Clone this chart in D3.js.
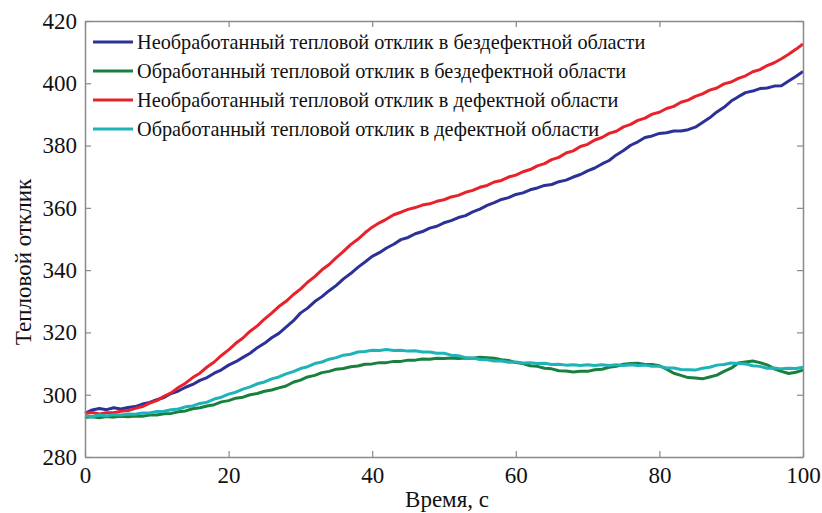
<!DOCTYPE html>
<html>
<head>
<meta charset="utf-8">
<script src="https://cdn.jsdelivr.net/npm/d3@7"></script>
<style>
  html, body { margin: 0; padding: 0; background: #fff; }
  svg { display: block; }
</style>
</head>
<body>
<svg id="chart" width="822" height="513" font-family="Liberation Serif"></svg>
<script>
// ---- data (time in seconds, 1 s step) ----
const time = d3.range(0, 101);

const seriesNames = [
  "Необработанный тепловой отклик в бездефектной области",
  "Обработанный тепловой отклик в бездефектной области",
  "Необработанный тепловой отклик в дефектной области",
  "Обработанный тепловой отклик в дефектной области"
];

const seriesColors = ["#2b3196", "#18803c", "#e8222b", "#1db3b8"];

const blueValues = [
  294.0, 295.1, 295.6, 295.2, 295.8, 295.4, 295.9, 296.2, 297.0, 297.5,
  298.4, 299.1, 300.4, 301.2, 302.4, 303.3, 304.6, 305.5, 306.9, 308.0,
  309.5, 310.6, 312.0, 313.3, 315.1, 316.5, 318.3, 319.7, 321.7, 323.7,
  326.2, 327.8, 329.9, 331.5, 333.4, 335.1, 337.2, 338.9, 340.9, 342.6,
  344.4, 345.6, 347.1, 348.3, 349.8, 350.5, 351.7, 352.4, 353.5, 354.1,
  355.2, 355.9, 356.9, 357.5, 358.7, 359.6, 360.8, 361.7, 362.7, 363.3,
  364.3, 364.8, 365.8, 366.4, 367.2, 367.5, 368.4, 368.9, 369.9, 370.7,
  371.9, 372.8, 374.1, 375.2, 377.0, 378.4, 380.1, 381.2, 382.6, 383.1,
  383.9, 384.1, 384.7, 384.7, 385.1, 385.9, 387.4, 388.9, 390.8, 392.3,
  394.3, 395.7, 397.0, 397.5, 398.3, 398.5, 399.1, 399.2, 400.7, 402.2,
  403.8
];

const greenValues = [
  292.7, 292.9, 292.6, 293.0, 292.8, 293.1, 292.9, 293.2, 293.1, 293.5,
  293.5, 293.9, 294.0, 294.5, 294.8, 295.5, 295.8, 296.4, 296.8, 297.7,
  298.1, 298.9, 299.2, 300.0, 300.4, 301.1, 301.5, 302.2, 302.8, 304.0,
  304.7, 305.7, 306.2, 307.1, 307.5, 308.2, 308.4, 309.0, 309.2, 309.8,
  309.9, 310.3, 310.3, 310.7, 310.7, 311.1, 311.1, 311.5, 311.4, 311.7,
  311.6, 311.8, 311.6, 311.8, 311.7, 312.0, 311.9, 311.7, 311.2, 311.0,
  310.3, 310.0, 309.3, 309.1, 308.5, 308.3, 307.7, 307.6, 307.3, 307.5,
  307.5, 308.0, 308.2, 308.8, 309.1, 309.8, 310.0, 310.1, 309.7, 309.7,
  309.3, 308.2, 306.9, 306.2, 305.5, 305.4, 305.1, 305.7, 306.3, 307.5,
  308.5, 310.2, 310.5, 310.8, 310.3, 309.6, 308.3, 307.5, 306.8, 307.2,
  307.9
];

const redValues = [
  294.0, 294.3, 293.8, 294.2, 294.2, 294.7, 294.9, 295.6, 296.2, 297.3,
  298.1, 299.5, 300.6, 302.3, 303.7, 305.5, 306.9, 308.9, 310.5, 312.6,
  314.4, 316.5, 318.2, 320.4, 322.1, 324.3, 326.2, 328.3, 330.0, 332.1,
  333.9, 336.1, 337.9, 340.1, 341.8, 344.0, 346.0, 348.2, 349.9, 352.0,
  353.8, 355.2, 356.4, 357.8, 358.6, 359.5, 360.1, 360.9, 361.3, 362.1,
  362.6, 363.5, 364.0, 365.0, 365.6, 366.6, 367.2, 368.3, 368.8, 369.9,
  370.5, 371.6, 372.3, 373.5, 374.2, 375.5, 376.2, 377.6, 378.3, 379.7,
  380.4, 381.8, 382.6, 383.9, 384.6, 386.0, 386.8, 388.1, 388.8, 390.1,
  390.7, 391.9, 392.6, 393.9, 394.6, 395.8, 396.6, 397.8, 398.5, 399.8,
  400.4, 401.6, 402.4, 403.7, 404.4, 405.7, 406.6, 407.9, 409.3, 410.9,
  412.6
];

const cyanValues = [
  293.2, 292.9, 293.5, 293.2, 293.6, 293.5, 293.8, 293.7, 294.1, 294.1,
  294.6, 294.7, 295.2, 295.4, 296.1, 296.4, 297.2, 297.6, 298.6, 299.2,
  300.2, 300.8, 301.8, 302.5, 303.5, 304.1, 305.1, 305.7, 306.7, 307.4,
  308.4, 309.0, 310.0, 310.5, 311.4, 311.9, 312.7, 313.0, 313.7, 313.9,
  314.3, 314.2, 314.5, 314.2, 314.3, 314.0, 314.1, 313.7, 313.7, 313.3,
  313.3, 312.7, 312.5, 311.9, 311.8, 311.3, 311.2, 310.8, 310.8, 310.4,
  310.5, 310.2, 310.3, 310.0, 310.1, 309.7, 309.8, 309.5, 309.6, 309.4,
  309.6, 309.4, 309.6, 309.4, 309.6, 309.4, 309.6, 309.4, 309.5, 309.1,
  309.1, 308.6, 308.6, 308.1, 308.0, 307.9, 308.5, 308.8, 309.5, 309.7,
  310.2, 310.0, 309.9, 309.3, 309.1, 308.5, 308.6, 308.3, 308.5, 308.4,
  308.8
];

const series = [blueValues, greenValues, redValues, cyanValues];

const xTicks = [0, 20, 40, 60, 80, 100];
const yTicks = [280, 300, 320, 340, 360, 380, 400, 420];

const xLabel = "Время, с";
const yLabel = "Тепловой отклик";

// ---- layout ----
const FONT = "Liberation Serif";
const svg = d3.select("#chart");
const mLeft = 85, mRight = 803, mTop = 21, mBottom = 457;

const x = d3.scaleLinear().domain([0, 100]).range([mLeft, mRight]);
const y = d3.scaleLinear().domain([280, 420]).range([mBottom, mTop]);

const axisColor = "#8a8a8a";

// lines
const line = d3.line()
  .x((d, i) => x(time[i]))
  .y(d => y(d));

svg.append("g")
  .selectAll("path")
  .data(series)
  .join("path")
  .attr("d", d => line(d))
  .attr("fill", "none")
  .attr("stroke", (d, i) => seriesColors[i])
  .attr("stroke-width", 3)
  .attr("stroke-linejoin", "round");

// axes (ticks inward, box on all sides)
function styleAxis(g) {
  g.attr("font-family", FONT).attr("font-size", 23);
  g.select(".domain").attr("stroke", axisColor).attr("stroke-width", 1.5);
  g.selectAll(".tick line").attr("stroke", axisColor).attr("stroke-width", 1.2);
  g.selectAll(".tick text").attr("font-family", FONT).attr("font-size", 23).attr("fill", "#111");
}

const xAxisB = d3.axisBottom(x).tickValues(xTicks).tickSizeInner(-6).tickSizeOuter(0).tickPadding(12);
const gxb = svg.append("g").attr("transform", `translate(0,${mBottom})`).call(xAxisB);
styleAxis(gxb);
gxb.selectAll(".tick text").attr("dy", "0.62em");

const xAxisT = d3.axisTop(x).tickValues(xTicks).tickSizeInner(-6).tickSizeOuter(0).tickFormat("");
const gxt = svg.append("g").attr("transform", `translate(0,${mTop})`).call(xAxisT);
styleAxis(gxt);

const yAxisL = d3.axisLeft(y).tickValues(yTicks).tickSizeInner(-6).tickSizeOuter(0).tickPadding(14);
const gyl = svg.append("g").attr("transform", `translate(${mLeft},0)`).call(yAxisL);
styleAxis(gyl);
gyl.selectAll(".tick text").attr("x", -8);

const yAxisR = d3.axisRight(y).tickValues(yTicks).tickSizeInner(-6).tickSizeOuter(0).tickFormat("");
const gyr = svg.append("g").attr("transform", `translate(${mRight},0)`).call(yAxisR);
styleAxis(gyr);

// axis labels
svg.append("text")
  .attr("x", 447).attr("y", 507)
  .attr("text-anchor", "middle")
  .attr("font-family", FONT)
  .attr("font-size", 23)
  .attr("fill", "#111")
  .text(xLabel);

svg.append("text")
  .attr("transform", `translate(31,262) rotate(-90)`)
  .attr("text-anchor", "middle")
  .attr("font-family", FONT)
  .attr("font-size", 23)
  .attr("fill", "#111")
  .text(yLabel);

// legend (no frame)
const legend = svg.append("g");
const rowY = [42, 71, 100, 129];
seriesNames.forEach((name, i) => {
  legend.append("line")
    .attr("x1", 93).attr("x2", 133)
    .attr("y1", rowY[i]).attr("y2", rowY[i])
    .attr("stroke", seriesColors[i]).attr("stroke-width", 3);
  legend.append("text")
    .attr("x", 137).attr("y", rowY[i])
    .attr("dy", "0.35em")
    .attr("font-family", FONT)
    .attr("font-size", 20.3)
    .attr("fill", "#111")
    .text(name);
});
</script>
</body>
</html>
